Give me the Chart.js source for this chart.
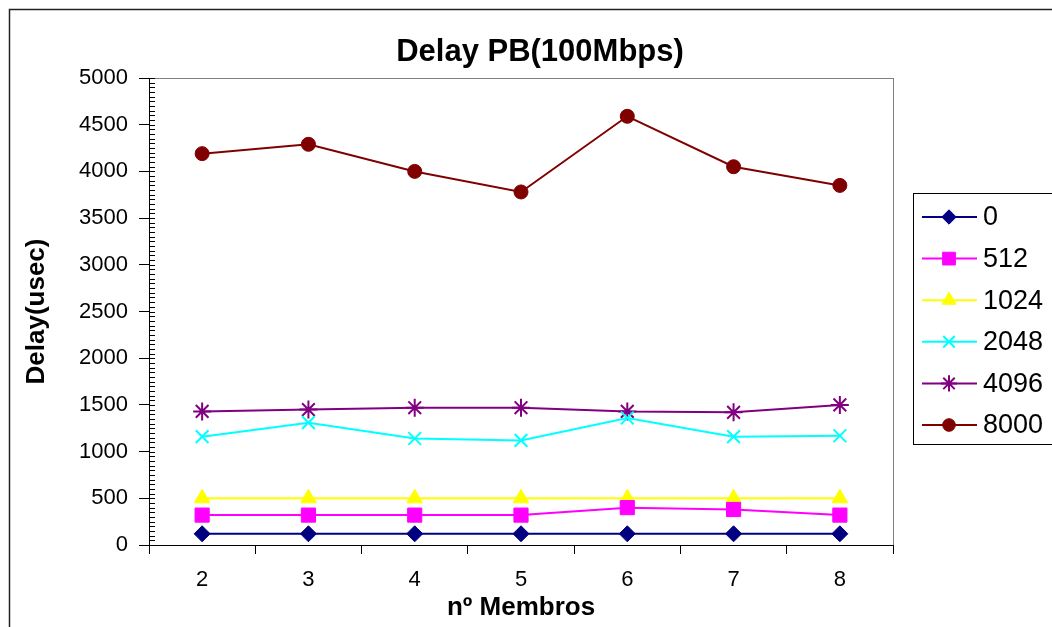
<!DOCTYPE html>
<html>
<head>
<meta charset="utf-8">
<script src="https://cdn.jsdelivr.net/npm/chart.js@4/dist/chart.umd.min.js"></script>
<style>
    html, body { margin: 0; padding: 0; background: #fff; }
    #wrap { width: 1052px; height: 627px; }
</style>
</head>
<body>
<div id="wrap"><canvas id="chart" width="1052" height="627"></canvas></div>
<script>
const members = ["2", "3", "4", "5", "6", "7", "8"];
const yTicks = [0, 500, 1000, 1500, 2000, 2500, 3000, 3500, 4000, 4500, 5000];

const delay0 = [120, 120, 120, 120, 120, 120, 120];
const delay512 = [320, 320, 320, 320, 400, 380, 320];
const delay1024 = [500, 500, 500, 500, 500, 500, 500];
const delay2048 = [1160, 1310, 1140, 1120, 1360, 1160, 1170];
const delay4096 = [1430, 1450, 1470, 1470, 1430, 1420, 1500];
const delay8000 = [4190, 4290, 4000, 3780, 4590, 4050, 3850];

const FONT = "'Liberation Sans', Arial, sans-serif";

const series = (label, data, color, style, radius, fill) => ({
    label: label,
    data: data,
    borderColor: color,
    backgroundColor: color,
    borderWidth: 2,
    pointStyle: style,
    pointRadius: radius,
    pointHoverRadius: radius,
    pointBackgroundColor: color,
    pointBorderColor: color,
    pointBorderWidth: fill ? 1 : 2,
    tension: 0,
});

// frame, plot border, title, minor ticks, legend
const decor = {
    id: "decor",
    beforeDraw(chart) {
        const { ctx, chartArea } = chart;
        ctx.save();
        ctx.fillStyle = "#fff";
        ctx.fillRect(0, 0, chart.width, chart.height);
        ctx.strokeStyle = "#222";
        ctx.lineWidth = 1.5;
        ctx.strokeRect(9.5, 9.5, 1200, 800);
        ctx.strokeStyle = "#808080";
        ctx.lineWidth = 1;
        ctx.strokeRect(chartArea.left + 0.5, chartArea.top + 0.5,
            chartArea.right - chartArea.left, chartArea.bottom - chartArea.top);
        ctx.fillStyle = "#000";
        ctx.font = "bold 31px " + FONT;
        ctx.textAlign = "center";
        ctx.textBaseline = "middle";
        ctx.fillText("Delay PB(100Mbps)", 540, 52);
        ctx.restore();
    },
    beforeDatasetsDraw(chart) {
        const { ctx, chartArea } = chart;
        const y = chart.scales.y;
        ctx.save();
        ctx.strokeStyle = "#000";
        ctx.lineWidth = 1;
        ctx.beginPath();
        for (let v = 0; v <= 5000; v += 50) {
            const py = Math.round(y.getPixelForValue(v)) + 0.5;
            ctx.moveTo(chartArea.left, py);
            ctx.lineTo(chartArea.left + 6, py);
        }
        ctx.stroke();
        ctx.restore();
    },
    afterDraw(chart) {
        const ctx = chart.ctx;
        ctx.save();
        ctx.strokeStyle = "#000";
        ctx.lineWidth = 1;
        ctx.strokeRect(913.5, 193.5, 150, 251);
        chart.data.datasets.forEach((ds, i) => {
            const y = 217 + i * 41.6;
            ctx.strokeStyle = ds.borderColor;
            ctx.lineWidth = 2;
            ctx.beginPath();
            ctx.moveTo(922, y);
            ctx.lineTo(977, y);
            ctx.stroke();
            ctx.fillStyle = ds.pointBackgroundColor;
            ctx.strokeStyle = ds.pointBorderColor;
            ctx.lineWidth = ds.pointBorderWidth;
            Chart.helpers.drawPoint(ctx, {
                pointStyle: ds.pointStyle,
                radius: ds.pointRadius * 0.9,
                borderWidth: ds.pointBorderWidth,
                rotation: 0,
            }, 949, y);
            ctx.fillStyle = "#000";
            ctx.font = "27px " + FONT;
            ctx.textAlign = "left";
            ctx.textBaseline = "middle";
            ctx.fillText(ds.label, 983, y + 1);
        });
        ctx.restore();
    },
};

new Chart(document.getElementById("chart"), {
    type: "line",
    data: {
        labels: members,
        datasets: [
            series("0", delay0, "#000080", "rectRot", 8, true),
            series("512", delay512, "#FF00FF", "rect", 10, true),
            series("1024", delay1024, "#FFFF00", "triangle", 9, true),
            series("2048", delay2048, "#00FFFF", "crossRot", 9, false),
            series("4096", delay4096, "#800080", "star", 9, false),
            series("8000", delay8000, "#800000", "circle", 7, true),
        ],
    },
    options: {
        responsive: false,
        animation: false,
        devicePixelRatio: 1,
        layout: { padding: { top: 78, right: 159, bottom: 0, left: 0 } },
        plugins: {
            legend: { display: false },
            title: { display: false },
            tooltip: { enabled: false },
        },
        scales: {
            x: {
                type: "category",
                offset: true,
                grid: { offset: true, drawOnChartArea: false, tickLength: 9, color: "#000" },
                border: { color: "#000", width: 1 },
                ticks: { color: "#000", padding: 13, font: { family: FONT, size: 22 } },
                title: {
                    display: true,
                    text: "nº Membros",
                    color: "#000",
                    padding: { top: 0, bottom: 4 },
                    font: { family: FONT, size: 26, weight: "bold" },
                },
                afterFit(scale) { scale.height = 82; },
            },
            y: {
                min: 0,
                max: 5000,
                afterBuildTicks(scale) { scale.ticks = yTicks.map((v) => ({ value: v })); },
                grid: { drawOnChartArea: false, tickLength: 10, color: "#000" },
                border: { color: "#000", width: 1 },
                ticks: {
                    color: "#000",
                    padding: 11,
                    font: { family: FONT, size: 22 },
                    callback: (v) => String(v),
                },
                title: {
                    display: true,
                    text: "Delay(usec)",
                    color: "#000",
                    padding: { top: 21, bottom: 0 },
                    font: { family: FONT, size: 26, weight: "bold" },
                },
                afterFit(scale) { scale.width = 149; },
            },
        },
    },
    plugins: [decor],
});
</script>
</body>
</html>
